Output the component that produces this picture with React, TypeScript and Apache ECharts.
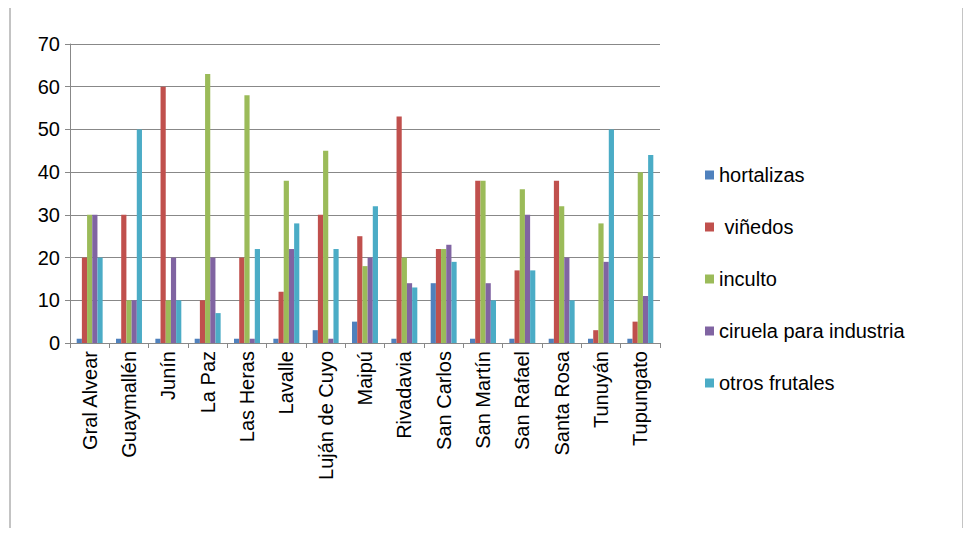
import React, { useEffect, useRef } from "react";
import * as echarts from "echarts";

const categories = ["Gral Alvear","Guaymallén","Junín","La Paz","Las Heras","Lavalle","Luján de Cuyo","Maipú","Rivadavia","San Carlos","San Martín","San Rafael","Santa Rosa","Tunuyán","Tupungato"];
const hortalizas = [1,1,1,1,1,1,3,5,1,14,1,1,1,1,1];
const vinedos = [20,30,60,10,20,12,30,25,53,22,38,17,38,3,5];
const inculto = [30,10,10,63,58,38,45,18,20,22,38,36,32,28,40];
const ciruela = [30,10,20,20,1,22,1,20,14,23,14,30,20,19,11];
const otros = [20,50,10,7,22,28,22,32,13,19,10,17,10,50,44];
const names = ["hortalizas"," viñedos","inculto","ciruela para industria","otros frutales"];
const colors = ["#4F81BD","#C0504D","#9BBB59","#8064A2","#4BACC6"];

export default function App() {
  const ref = useRef<HTMLDivElement>(null);
  useEffect(() => {
    const chart = echarts.init(ref.current!, null, { renderer: "svg" });
    const data = [hortalizas, vinedos, inculto, ciruela, otros];
    chart.setOption({
      animation: false,
      textStyle: { fontFamily: "Liberation Sans" },
      graphic: [{ type: "rect", shape: { x: 2, y: -10, width: 953, height: 540 }, style: { fill: "none", stroke: "#888", lineWidth: 1 } }],
      legend: {
        orient: "vertical", left: 692, top: 152, itemGap: 32, itemWidth: 9, itemHeight: 9, icon: "rect",
        textStyle: { fontSize: 20, color: "#000", fontFamily: "Liberation Sans" },
        data: names,
      },
      grid: { left: 62, right: 303, top: 36, bottom: 185, containLabel: false },
      xAxis: {
        type: "category", data: categories,
        axisLine: { lineStyle: { color: "#888" } },
        axisTick: { show: true, lineStyle: { color: "#888" } },
        axisLabel: { rotate: 90, fontSize: 20, color: "#000", interval: 0, margin: 8 },
      },
      yAxis: {
        type: "value", min: 0, max: 70, interval: 10,
        axisLine: { show: true, lineStyle: { color: "#888" } },
        axisTick: { show: true, lineStyle: { color: "#888" } },
        splitLine: { lineStyle: { color: "#888" } },
        axisLabel: { fontSize: 20, color: "#000", margin: 10 },
      },
      series: names.map((n, i) => ({
        name: n, type: "bar", data: data[i], barGap: "0%", barCategoryGap: "34%",
        itemStyle: { color: colors[i] },
      })),
    });
    return () => chart.dispose();
  }, []);
  return <div ref={ref} style={{ width: 955, height: 520 }} />;
}
